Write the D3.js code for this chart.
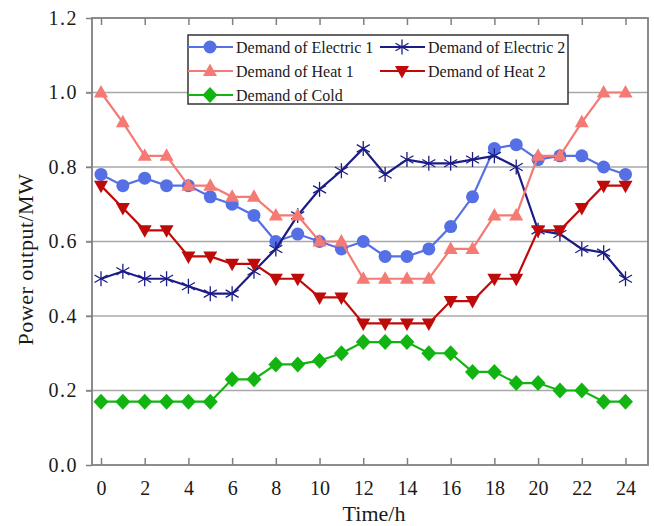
<!DOCTYPE html>
<html>
<head>
<meta charset="utf-8">
<script src="https://cdn.jsdelivr.net/npm/d3@7"></script>
<style>
  html, body { margin: 0; padding: 0; background: #fff; }
  svg { display: block; }
</style>
</head>
<body>
<svg id="chart" width="654" height="526"></svg>
<script>
// Hourly demand profiles (MW)
const hours = d3.range(0, 25);
const electric1 = [0.78, 0.75, 0.77, 0.75, 0.75, 0.72, 0.70, 0.67, 0.60, 0.62, 0.60, 0.58, 0.60,
                   0.56, 0.56, 0.58, 0.64, 0.72, 0.85, 0.86, 0.82, 0.83, 0.83, 0.80, 0.78];
const electric2 = [0.50, 0.52, 0.50, 0.50, 0.48, 0.46, 0.46, 0.52, 0.58, 0.67, 0.74, 0.79, 0.85,
                   0.78, 0.82, 0.81, 0.81, 0.82, 0.83, 0.80, 0.63, 0.62, 0.58, 0.57, 0.50];
const heat1 = [1.00, 0.92, 0.83, 0.83, 0.75, 0.75, 0.72, 0.72, 0.67, 0.67, 0.60, 0.60, 0.50,
               0.50, 0.50, 0.50, 0.58, 0.58, 0.67, 0.67, 0.83, 0.83, 0.92, 1.00, 1.00];
const heat2 = [0.75, 0.69, 0.63, 0.63, 0.56, 0.56, 0.54, 0.54, 0.50, 0.50, 0.45, 0.45, 0.38,
               0.38, 0.38, 0.38, 0.44, 0.44, 0.50, 0.50, 0.63, 0.63, 0.69, 0.75, 0.75];
const cold = [0.17, 0.17, 0.17, 0.17, 0.17, 0.17, 0.23, 0.23, 0.27, 0.27, 0.28, 0.30, 0.33,
              0.33, 0.33, 0.30, 0.30, 0.25, 0.25, 0.22, 0.22, 0.20, 0.20, 0.17, 0.17];

const seriesNames = ["Demand of Electric 1", "Demand of Electric 2", "Demand of Heat 1",
                     "Demand of Heat 2", "Demand of Cold"];
const xTicks = d3.range(0, 25, 2);
const yTicks = [0.0, 0.2, 0.4, 0.6, 0.8, 1.0, 1.2];
const xTitle = "Time/h";
const yTitle = "Power output/MW";

const FONT = '"Liberation Serif", "DejaVu Serif", "Times New Roman", serif';

const series = [
  { name: seriesNames[0], values: electric1, color: "#5470e4", symbol: "circle" },
  { name: seriesNames[1], values: electric2, color: "#1c1c86", symbol: "star" },
  { name: seriesNames[2], values: heat1, color: "#f57a74", symbol: "triUp" },
  { name: seriesNames[3], values: heat2, color: "#bf0a0a", symbol: "triDown" },
  { name: seriesNames[4], values: cold, color: "#12b412", symbol: "diamond" }
];

const svg = d3.select("#chart");
const frame = { left: 92, right: 648, top: 18, bottom: 465 };

const x = d3.scaleLinear().domain([0, 24]).range([101, 625.5]);
const y = d3.scaleLinear().domain([0, 1.2]).range([frame.bottom, frame.top]);

// horizontal grid
svg.append("g")
  .selectAll("line")
  .data(yTicks.filter(v => v > 0 && v < 1.2))
  .join("line")
  .attr("x1", frame.left - 6).attr("x2", frame.right)
  .attr("y1", d => y(d)).attr("y2", d => y(d))
  .attr("stroke", "#a8a8a8").attr("stroke-width", 1.5);

// bottom and top axes with inward ticks
const axisColor = "#808080";
const gBottom = svg.append("g")
  .attr("transform", `translate(0,${frame.bottom})`)
  .attr("font-family", FONT)
  .call(d3.axisBottom(x).tickValues(xTicks).tickSize(-7).tickPadding(16).tickFormat(d3.format("d")));
gBottom.select(".domain").remove();
gBottom.selectAll(".tick line").attr("stroke", axisColor).attr("stroke-width", 1.5);
gBottom.selectAll(".tick text")
  .attr("font-family", FONT).attr("font-size", 20).attr("fill", "#1a1a1a");

const gTop = svg.append("g")
  .attr("transform", `translate(0,${frame.top})`)
  .call(d3.axisTop(x).tickValues(xTicks).tickSize(-7).tickFormat(""));
gTop.select(".domain").remove();
gTop.selectAll(".tick line").attr("stroke", axisColor).attr("stroke-width", 1.5);

// left axis with outward ticks
const gLeft = svg.append("g")
  .attr("transform", `translate(${frame.left},0)`)
  .call(d3.axisLeft(y).tickValues(yTicks).tickSize(6).tickPadding(8).tickFormat(d3.format(".1f")));
gLeft.select(".domain").remove();
gLeft.selectAll(".tick line").attr("stroke", axisColor).attr("stroke-width", 1.5);
gLeft.selectAll(".tick text")
  .attr("font-family", FONT).attr("font-size", 20)
  .attr("letter-spacing", 1.5).attr("fill", "#1a1a1a");

// plot frame
svg.append("rect")
  .attr("x", frame.left).attr("y", frame.top)
  .attr("width", frame.right - frame.left).attr("height", frame.bottom - frame.top)
  .attr("fill", "none").attr("stroke", axisColor).attr("stroke-width", 1.8);

// marker shapes
function drawSymbol(g, kind, color) {
  if (kind === "circle") {
    g.append("circle").attr("r", 6.5).attr("fill", color);
  } else if (kind === "triUp") {
    g.append("path").attr("d", "M0,-7.5L7,5L-7,5Z").attr("fill", color);
  } else if (kind === "triDown") {
    g.append("path").attr("d", "M0,7.5L7,-5L-7,-5Z").attr("fill", color);
  } else if (kind === "diamond") {
    g.append("path").attr("d", "M0,-8L7.5,0L0,8L-7.5,0Z").attr("fill", color);
  } else if (kind === "star") {
    const r = 7.5;
    const arms = [90, 30, -30];
    arms.forEach(a => {
      const rad = a * Math.PI / 180;
      g.append("line")
        .attr("x1", -r * Math.cos(rad)).attr("y1", -r * Math.sin(rad))
        .attr("x2", r * Math.cos(rad)).attr("y2", r * Math.sin(rad))
        .attr("stroke", color).attr("stroke-width", 1.3);
    });
  }
}

const line = d3.line().x((d, i) => x(hours[i])).y(d => y(d));

const plot = svg.append("g");
series.forEach(s => {
  const g = plot.append("g");
  g.append("path")
    .attr("d", line(s.values))
    .attr("fill", "none").attr("stroke", s.color).attr("stroke-width", 2.2);
  s.values.forEach((v, i) => {
    const m = g.append("g").attr("transform", `translate(${x(hours[i])},${y(v)})`);
    drawSymbol(m, s.symbol, s.color);
  });
});

// legend
const legend = svg.append("g");
legend.append("rect")
  .attr("x", 188).attr("y", 35).attr("width", 380).attr("height", 69)
  .attr("fill", "#fff").attr("stroke", "#333").attr("stroke-width", 1.5);
const legendPos = [
  { lx: 188, ty: 47 }, { lx: 380, ty: 47 },
  { lx: 188, ty: 71 }, { lx: 380, ty: 71 },
  { lx: 188, ty: 95 }
];
series.forEach((s, i) => {
  const p = legendPos[i];
  const g = legend.append("g");
  g.append("line")
    .attr("x1", p.lx).attr("x2", p.lx + 45)
    .attr("y1", p.ty).attr("y2", p.ty)
    .attr("stroke", s.color).attr("stroke-width", 2.2);
  const m = g.append("g").attr("transform", `translate(${p.lx + 22},${p.ty})`);
  drawSymbol(m, s.symbol, s.color);
  g.append("text")
    .attr("x", p.lx + 48).attr("y", p.ty)
    .attr("dy", "0.35em")
    .attr("font-family", FONT)
    .attr("font-size", 16)
    .attr("fill", "#1a1a1a")
    .text(s.name);
});

// axis titles
svg.append("text")
  .attr("x", (frame.left + frame.right) / 2 + 4).attr("y", 521)
  .attr("text-anchor", "middle")
  .attr("font-family", FONT)
  .attr("font-size", 22)
  .attr("fill", "#1a1a1a")
  .text(xTitle);

svg.append("text")
  .attr("transform", `translate(33,${(frame.top + frame.bottom) / 2 + 18}) rotate(-90)`)
  .attr("text-anchor", "middle")
  .attr("font-family", FONT)
  .attr("font-size", 22)
  .attr("letter-spacing", 0.5)
  .attr("fill", "#1a1a1a")
  .text(yTitle);
</script>
</body>
</html>
